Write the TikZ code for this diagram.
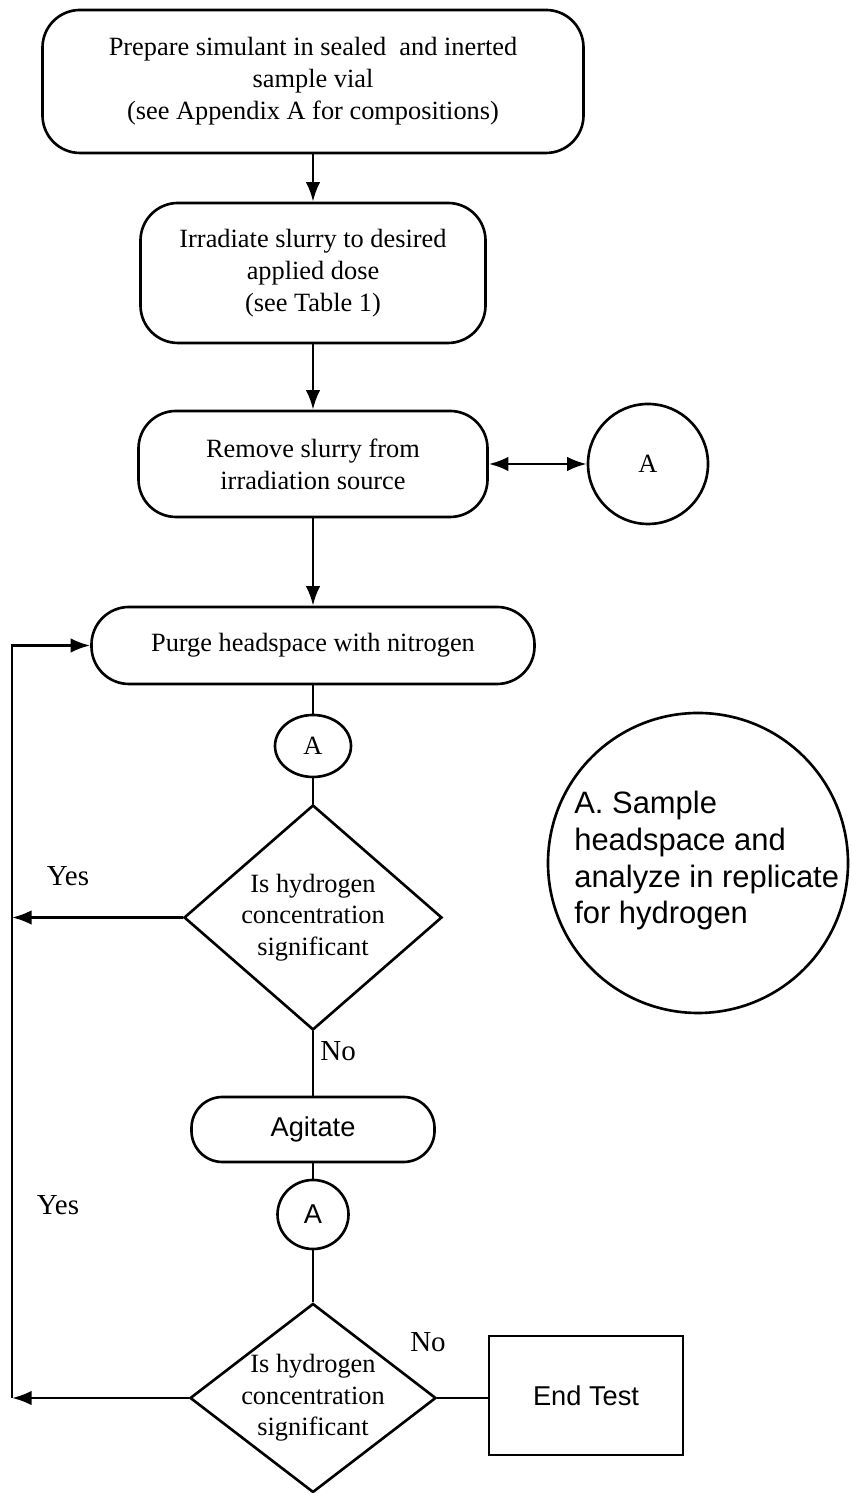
\documentclass[tikz,border=0pt]{standalone}
\usepackage{fontspec}
\setmainfont{Liberation Serif}
\setsansfont{Liberation Sans}
\usetikzlibrary{arrows.meta,shapes.geometric}

\begin{document}
\begin{tikzpicture}[
  line width=1.5pt,
  procbox/.style={draw, rounded corners=0.75cm, align=center, inner sep=0pt,
                  font=\fontsize{15}{18.3}\selectfont},
  decbox/.style={draw, diamond, inner sep=0pt},
  dectext/.style={align=center, font=\fontsize{15}{18}\selectfont},
  conncirc/.style={draw, ellipse, inner sep=0pt, font=\fontsize{15}{18}\selectfont},
  endbox/.style={draw, rectangle, inner sep=0pt, font=\sffamily\fontsize{15.5}{18}\selectfont},
  anslabel/.style={font=\fontsize{16.5}{19}\selectfont},
  arr/.style={-{Latex[length=3.9mm,width=2.9mm]}},
  dblarr/.style={{Latex[length=3.9mm,width=2.9mm]}-{Latex[length=3.9mm,width=2.9mm]}},
]
\useasboundingbox (0,0) rectangle (17.02,29.86);

%% ── main column x and row y (centres) ────────────────────
\def\cx{6.26}
\def\yPrep{28.23}  \def\yIrr{24.40}  \def\yRem{20.58}  \def\yPurge{16.95}
\def\yChkA{14.94}  \def\yDecA{11.51} \def\yAgit{7.27}  \def\yChkB{5.57}
\def\yDecB{1.90}
\def\loopx{0.24}   % x of the return line

%% ── process boxes ────────────────────────────────────────
\node[procbox, minimum width=10.82cm, minimum height=2.86cm] (prep) at (\cx,\yPrep)
  {Prepare simulant in sealed\ \ and inerted\\sample vial\\(see Appendix A for compositions)};
\node[procbox, minimum width=6.90cm, minimum height=2.80cm] (irr) at (\cx,\yIrr)
  {Irradiate slurry to desired\\applied dose\\(see Table 1)};
\node[procbox, minimum width=6.98cm, minimum height=2.12cm] (remove) at (\cx,\yRem)
  {Remove slurry from\\irradiation source};
\node[procbox, minimum width=8.86cm, minimum height=1.54cm] (purge) at (\cx,\yPurge)
  {Purge headspace with nitrogen};
\node[procbox, rounded corners=0.62cm, minimum width=4.86cm, minimum height=1.30cm,
      font=\sffamily\fontsize{15.5}{18}\selectfont] (agit) at (\cx,\yAgit) {Agitate};

%% ── sampling connectors ──────────────────────────────────
\node[conncirc, minimum width=2.4cm, minimum height=2.4cm] (sampA) at (12.96,\yRem) {A};
\node[conncirc, minimum width=1.52cm, minimum height=1.24cm] (chkA) at (\cx,\yChkA) {A};
\node[conncirc, minimum width=1.42cm, minimum height=1.38cm,
      font=\sffamily\fontsize{15.5}{18}\selectfont] (chkB) at (\cx,\yChkB) {A};

%% ── decisions ────────────────────────────────────────────
\node[decbox, minimum width=5.16cm, minimum height=4.50cm] (decA) at (\cx,\yDecA) {};
\node[dectext] (decAtxt) at (decA) {Is hydrogen\\concentration\\significant};
\node[decbox, minimum width=4.92cm, minimum height=3.78cm] (decB) at (\cx,\yDecB) {};
\node[dectext] (decBtxt) at (decB) {Is hydrogen\\concentration\\significant};

\node[endbox, minimum width=3.88cm, minimum height=2.38cm] (endt) at (11.72,1.95) {End Test};

%% ── note circle ──────────────────────────────────────────
\node[draw, circle, minimum size=6cm, inner sep=0pt] (note) at (13.96,12.60) {};
\node[anchor=north west, inner sep=0pt, align=left,
      font=\sffamily\fontsize{17.6}{20.9}\selectfont] (notetxt) at (11.46,14.06)
  {A. Sample\\headspace and\\analyze in replicate\\for hydrogen};

%% ── flow ─────────────────────────────────────────────────
\draw[arr] (prep) -- (irr);
\draw[arr] (irr) -- (remove);
\draw[dblarr] (remove) -- (sampA);
\draw[arr] (remove) -- (purge);
\draw (purge) -- (chkA);
\draw (chkA) -- (decA);
\draw (decA) -- (agit);
\draw (agit) -- (chkB);
\draw (chkB) -- (decB);
\draw (decB.east) -- (decB.east -| endt.west);

%% ── "Yes" return loop ────────────────────────────────────
\coordinate (loopA) at (\loopx,\yDecA);
\coordinate (loopB) at (\loopx,\yDecB);
\draw[arr] (decA) -- (loopA);
\draw[arr] (decB) -- (loopB);
\draw[arr] (loopB) |- (purge);

%% ── answer labels ────────────────────────────────────────
\node[anslabel] (yesA) at (1.36,12.34) {Yes};
\node[anslabel] (yesB) at (1.16,5.76) {Yes};
\node[anslabel, anchor=west, inner sep=0pt] (noA) at (6.38,8.84) {No};
\node[anslabel] (noB) at (8.56,3.02) {No};

\end{tikzpicture}
\end{document}
